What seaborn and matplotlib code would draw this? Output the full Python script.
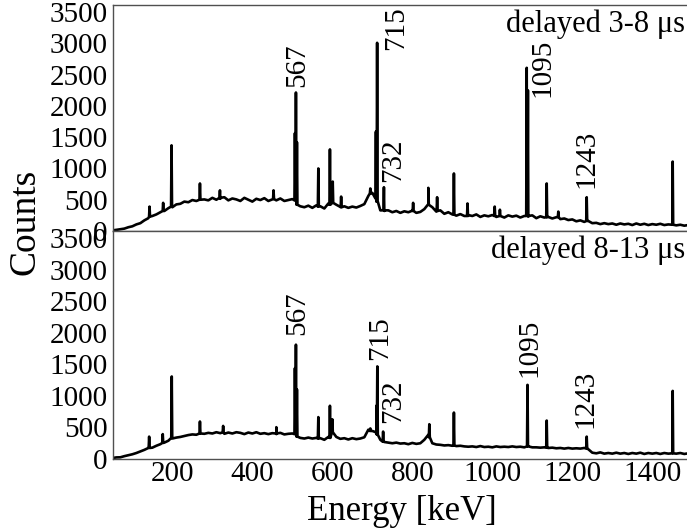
import numpy as np
import pandas as pd
import matplotlib
matplotlib.use("Agg")
import matplotlib.pyplot as plt
from matplotlib.ticker import MultipleLocator, FuncFormatter
import seaborn as sns

# ---------------- data ----------------
# continuum sampled every 10 keV from 50 to 1490 keV
energy_grid = np.arange(50, 1500, 10)

top_continuum = [
    10, 18, 28, 38, 60, 75, 105, 125, 170, 205,
    240, 265, 300, 320, 365, 380, 425, 435, 470, 460,
    495, 480, 520, 505, 490, 530, 500, 515, 540, 490,
    520, 505, 480, 530, 500, 470, 515, 495, 525, 480,
    505, 490, 520, 480, 495, 510, 480, 395, 380, 405,
    370, 410, 395, 360, 440, 480, 420, 385, 395, 370,
    390, 375, 400, 430, 560, 610, 470, 330, 320, 330,
    300, 320, 290, 315, 300, 325, 290, 305, 350, 430,
    380, 310, 330, 275, 300, 265, 245, 270, 240, 255,
    240, 265, 225, 250, 235, 255, 225, 245, 215, 250,
    230, 245, 215, 240, 230, 250, 205, 235, 215, 225,
    200, 220, 190, 200, 175, 185, 155, 170, 145, 160,
    125, 130, 110, 125, 110, 120, 100, 120, 105, 115,
    95, 120, 100, 115, 95, 110, 100, 115, 95, 105,
    100, 90, 100, 85, 95,
]

bottom_continuum = [
    10, 20, 22, 40, 55, 70, 90, 115, 140, 170,
    175, 205, 230, 255, 285, 320, 335, 345, 360, 375,
    385, 380, 405, 395, 410, 400, 420, 405, 395, 415,
    400, 420, 410, 390, 415, 400, 420, 395, 405, 390,
    405, 390, 410, 385, 395, 400, 370, 330, 320, 335,
    320, 330, 325, 300, 345, 440, 345, 315, 325, 305,
    325, 310, 320, 340, 460, 440, 400, 300, 265, 255,
    245, 255, 240, 245, 230, 250, 235, 245, 300, 380,
    245, 225, 220, 210, 215, 205, 200, 205, 195, 190,
    195, 185, 200, 185, 190, 180, 195, 185, 190, 185,
    195, 185, 190, 180, 195, 180, 180, 175, 180, 170,
    175, 165, 170, 160, 170, 160, 165, 160, 170, 150,
    95, 85, 100, 80, 90, 80, 95, 80, 90, 75,
    90, 80, 95, 75, 90, 80, 90, 75, 90, 80,
    90, 80, 90, 75, 85,
]

# photopeaks: centroid energy [keV], peak counts, counts at the peak foot
top_peak_energy = [143, 177, 198, 269, 319, 453, 506.5, 509, 511.5, 565, 594, 601,
                   622, 695, 709, 712, 729, 802, 840, 862, 904, 938, 1006, 1019,
                   1086, 1089, 1136, 1165, 1236, 1451]
top_peak_counts = [390, 450, 1370, 760, 650, 650, 1565, 2215, 1420, 1000, 1305, 790,
                   550, 680, 1590, 3010, 700, 450, 690, 540, 920, 440, 390, 340,
                   2610, 2250, 760, 310, 540, 1110]
top_peak_foot = [230, 320, 390, 500, 530, 510, 490, 490, 420, 390, 420, 450,
                 380, 600, 520, 480, 330, 320, 420, 320, 260, 240, 240, 240,
                 240, 240, 220, 220, 160, 100]

bottom_peak_energy = [142, 176, 198.5, 269, 327, 460, 506.5, 509, 511.5, 565, 594, 600,
                      695, 710, 712.5, 727, 842.5, 904, 1088, 1136, 1236, 1451]
bottom_peak_counts = [350, 390, 1305, 590, 520, 500, 1437, 1810, 1100, 660, 840, 625,
                      480, 840, 1465, 430, 547, 732, 1172, 605, 350, 1076]
bottom_peak_foot = [170, 250, 330, 400, 420, 400, 390, 390, 350, 320, 330, 420,
                    440, 420, 380, 270, 340, 210, 195, 175, 160, 85]

# line identifications: text, energy position of label, counts at label base
top_labels = ["567", "715", "732", "1095", "1243"]
top_label_energy = [511, 759, 753, 1125, 1236]
top_label_counts = [2300, 2890, 790, 2145, 682]

bottom_labels = ["567", "715", "732", "1095", "1243"]
bottom_label_energy = [512, 719, 753, 1094, 1232]
bottom_label_counts = [1967, 1569, 563, 1304, 483]

panel_titles = ["delayed 3-8 \u03bcs", "delayed 8-13 \u03bcs"]
y_ticks = [0, 500, 1000, 1500, 2000, 2500, 3000, 3500]


def spectrum_frame(continuum, pk_e, pk_c, pk_f, half=1.2):
    e = list(energy_grid)
    c = list(continuum)
    for pe, pc, pf in zip(pk_e, pk_c, pk_f):
        e += [pe - half, pe, pe + half]
        c += [pf, pc, pf]
    df = pd.DataFrame({"Energy": e, "Counts": c})
    return df.sort_values("Energy").reset_index(drop=True)


top_df = spectrum_frame(top_continuum, top_peak_energy, top_peak_counts, top_peak_foot)
bottom_df = spectrum_frame(bottom_continuum, bottom_peak_energy, bottom_peak_counts, bottom_peak_foot)

# ---------------- style ----------------
sns.set_theme(style="white")
plt.rcParams["font.family"] = ["Liberation Serif", "DejaVu Serif"]
plt.rcParams["text.color"] = "black"
plt.rcParams["axes.labelcolor"] = "black"

frame_color = "#505050"
tick_color = "#707070"

fig = plt.figure(figsize=(6.87, 5.31), dpi=100)
ax_top = fig.add_axes([0.165, 0.5650, 0.8427, 0.4256])
ax_bot = fig.add_axes([0.165, 0.1362, 0.8427, 0.4288])

panels = [
    (ax_top, top_df, top_labels, top_label_energy, top_label_counts, panel_titles[0]),
    (ax_bot, bottom_df, bottom_labels, bottom_label_energy, bottom_label_counts, panel_titles[1]),
]

for ax, df, labs, lab_e, lab_c, title in panels:
    sns.lineplot(data=df, x="Energy", y="Counts", ax=ax, estimator=None,
                 color="black", linewidth=1.9)
    ax.set_xlim(52.5, 1500)
    ax.set_ylim(0, 3615)
    ax.set_xlabel("")
    ax.set_ylabel("")
    ax.set_yticks(y_ticks)
    ax.yaxis.set_minor_locator(MultipleLocator(250))
    ax.xaxis.set_major_locator(MultipleLocator(100))
    ax.xaxis.set_minor_locator(MultipleLocator(50))
    ax.tick_params(axis="y", which="major", direction="in", length=10, width=1,
                   color=tick_color, labelsize=21, pad=4, labelcolor="black")
    ax.tick_params(axis="y", which="minor", direction="in", length=5, width=1,
                   color=tick_color)
    ax.tick_params(axis="x", which="major", direction="in", length=8, width=1,
                   color=tick_color, labelsize=21, pad=2, labelcolor="black")
    ax.tick_params(axis="x", which="minor", direction="in", length=4, width=1,
                   color=tick_color)
    for s in ax.spines.values():
        s.set_color(frame_color)
        s.set_linewidth(1.0)
    ax.grid(False)
    for t, e, c in zip(labs, lab_e, lab_c):
        ax.text(e, c, t, rotation=90, ha="center", va="bottom", fontsize=21,
                color="black")
    ax.text(0.9875, 0.98, title, transform=ax.transAxes, ha="right", va="top",
            fontsize=22, color="black")

ax_top.xaxis.set_major_formatter(FuncFormatter(lambda v, p: ""))
ax_bot.xaxis.set_major_formatter(
    FuncFormatter(lambda v, p: f"{int(v)}" if int(round(v)) % 200 == 0 else ""))

fig.text(25 / 687, 1 - 222 / 531, "Counts", rotation=90, ha="center", va="center",
         fontsize=27, color="black")
fig.text(402 / 687, 1 - 512 / 531, "Energy [keV]", ha="center", va="center",
         fontsize=25, color="black")

fig.savefig("out.png", dpi=100)
